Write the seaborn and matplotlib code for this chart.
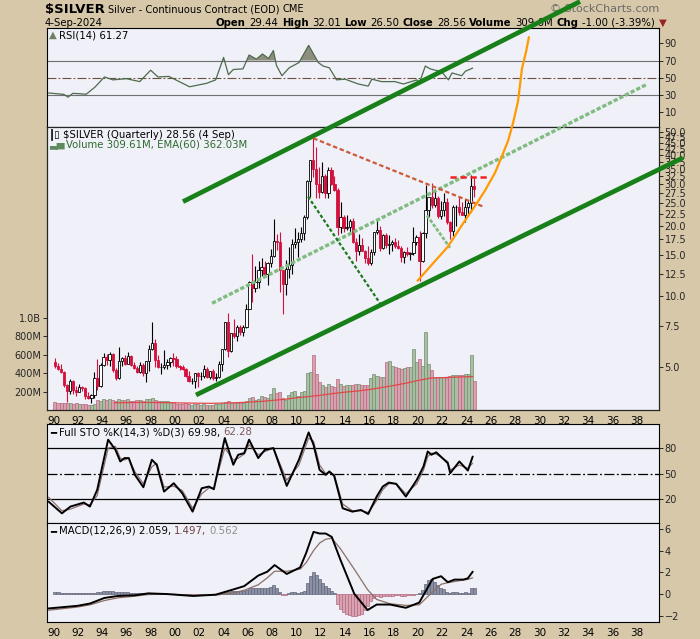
import numpy as np
import pandas as pd
import matplotlib
matplotlib.use("Agg")
import matplotlib.pyplot as plt
from matplotlib.ticker import FixedLocator, NullLocator
import seaborn as sns

# quarterly candles 1990Q1 .. 2024Q3
opens = [
    5.25, 5.05, 4.90, 4.75, 4.20, 3.95, 4.35, 4.00, 3.90, 4.10, 4.05, 3.75,
    3.70, 3.80, 4.50, 4.15, 5.10, 5.50, 5.35, 5.70, 4.85, 4.50, 5.30, 5.45,
    5.15, 5.55, 5.10, 4.95, 4.75, 5.10, 4.70, 5.30, 5.95, 6.35, 5.35, 5.00,
    5.00, 5.10, 5.25, 5.45, 5.40, 5.05, 5.00, 4.90, 4.60, 4.35, 4.35, 4.70,
    4.60, 4.60, 4.90, 4.55, 4.80, 4.50, 4.55, 5.15, 5.95, 7.75, 5.85, 6.95,
    6.80, 7.40, 7.05, 7.40, 8.85, 11.55, 10.85, 11.55, 12.90, 13.30, 12.40, 13.90,
    14.80, 17.20, 17.05, 12.90, 11.30, 13.10, 13.60, 16.65, 16.95, 17.50, 18.65, 21.80,
    30.90, 37.90, 34.70, 30.00, 27.90, 32.50, 27.60, 34.50, 30.00, 28.40, 19.70, 21.75,
    19.50, 19.70, 21.00, 17.10, 15.60, 16.60, 15.60, 14.55, 13.80, 15.40, 18.70, 19.20,
    16.00, 18.20, 16.60, 16.65, 17.00, 16.40, 16.10, 14.70, 15.50, 15.10, 15.30, 17.00,
    17.90, 14.20, 18.60, 23.40, 26.40, 24.50, 26.20, 22.00, 23.30, 25.10, 20.80, 19.00,
    24.00, 24.10, 22.80, 22.30, 24.10, 25.00, 29.44,
]
highs = [
    5.45, 5.20, 5.15, 4.80, 4.25, 4.45, 4.40, 4.15, 4.25, 4.15, 4.10, 3.90,
    3.85, 4.75, 5.40, 5.20, 5.75, 5.70, 5.80, 5.75, 4.95, 6.10, 5.50, 5.60,
    5.80, 5.60, 5.25, 5.05, 5.25, 5.20, 5.30, 6.20, 7.80, 6.60, 5.60, 5.20,
    5.90, 5.40, 5.50, 5.75, 5.55, 5.10, 5.10, 4.95, 4.80, 4.50, 4.70, 4.75,
    4.75, 5.10, 5.00, 4.80, 4.90, 4.70, 5.30, 5.95, 7.80, 8.45, 7.00, 8.00,
    7.55, 7.55, 7.55, 9.25, 11.60, 15.20, 13.40, 14.20, 14.50, 14.10, 13.95, 15.85,
    21.35, 18.40, 18.80, 13.00, 14.30, 16.25, 17.50, 19.45, 18.85, 19.80, 22.10, 31.30,
    38.20, 49.80, 43.40, 35.70, 37.50, 33.20, 35.40, 35.40, 32.40, 28.95, 25.10, 22.20,
    22.20, 21.35, 21.60, 17.80, 18.50, 17.80, 15.80, 16.30, 15.85, 18.80, 21.20, 20.00,
    18.50, 18.65, 18.20, 17.40, 17.70, 17.35, 16.30, 15.60, 16.20, 15.50, 19.75, 18.25,
    18.90, 18.80, 29.90, 26.50, 30.35, 28.75, 26.85, 25.40, 27.50, 26.30, 21.00, 24.50,
    24.60, 26.40, 25.30, 26.05, 25.75, 32.75, 32.01,
]
lows = [
    4.95, 4.85, 4.70, 4.10, 3.55, 3.85, 3.85, 3.75, 3.90, 3.95, 3.65, 3.65,
    3.52, 3.70, 4.00, 4.10, 5.05, 5.10, 5.05, 4.75, 4.40, 4.45, 5.05, 5.10,
    5.15, 5.05, 4.90, 4.70, 4.70, 4.60, 4.30, 4.80, 5.90, 5.00, 4.95, 4.65,
    4.90, 4.90, 5.00, 5.05, 4.95, 4.85, 4.85, 4.55, 4.30, 4.25, 4.05, 4.10,
    4.40, 4.50, 4.50, 4.45, 4.40, 4.35, 4.50, 4.80, 5.90, 5.50, 5.80, 6.65,
    6.45, 6.85, 6.75, 7.30, 8.85, 9.50, 10.40, 10.80, 12.20, 12.40, 11.20, 13.30,
    14.70, 15.80, 10.40, 8.40, 10.15, 11.95, 12.40, 16.05, 14.65, 17.00, 17.40, 21.30,
    26.40, 32.30, 26.10, 26.15, 27.60, 26.10, 26.30, 29.80, 28.00, 18.20, 18.60, 18.80,
    19.25, 18.60, 16.90, 14.15, 15.00, 15.55, 13.90, 13.65, 13.60, 15.00, 18.50, 15.60,
    15.90, 16.10, 15.20, 15.60, 16.10, 15.95, 13.95, 13.90, 14.90, 14.30, 14.95, 16.50,
    11.65, 13.95, 17.70, 21.80, 23.80, 24.00, 21.45, 21.40, 21.95, 20.40, 17.55, 18.10,
    19.90, 22.10, 22.20, 20.70, 21.95, 22.80, 26.50,
]
closes = [
    5.05, 4.90, 4.75, 4.20, 3.95, 4.35, 4.00, 3.90, 4.10, 4.05, 3.75, 3.70,
    3.80, 4.50, 4.15, 5.10, 5.50, 5.35, 5.70, 4.85, 4.50, 5.30, 5.45, 5.15,
    5.55, 5.10, 4.95, 4.75, 5.10, 4.70, 5.30, 5.95, 6.35, 5.35, 5.00, 5.00,
    5.10, 5.25, 5.45, 5.40, 5.05, 5.00, 4.90, 4.60, 4.35, 4.35, 4.70, 4.60,
    4.60, 4.90, 4.55, 4.80, 4.50, 4.55, 5.15, 5.95, 7.75, 5.85, 6.95, 6.80,
    7.40, 7.05, 7.40, 8.85, 11.55, 10.85, 11.55, 12.90, 13.30, 12.40, 13.90, 14.80,
    17.20, 17.05, 12.90, 11.30, 13.10, 13.60, 16.65, 16.95, 17.50, 18.65, 21.80, 30.90,
    37.90, 34.70, 30.00, 27.90, 32.50, 27.60, 34.50, 30.00, 28.40, 19.70, 21.75, 19.50,
    19.70, 21.00, 17.10, 15.60, 16.60, 15.60, 14.55, 13.80, 15.40, 18.70, 19.20, 16.00,
    18.20, 16.60, 16.65, 17.00, 16.40, 16.10, 14.70, 15.50, 15.10, 15.30, 17.00, 17.90,
    14.20, 18.60, 23.40, 26.40, 24.50, 26.20, 22.00, 23.30, 25.10, 20.80, 19.00, 24.00,
    24.10, 22.80, 22.30, 24.10, 25.00, 29.44, 28.56,
]
# volume in millions
volumes = [
    85, 80, 75, 80, 75, 75, 70, 75, 70, 65, 60, 55,
    50, 70, 110, 95, 115, 110, 120, 105, 100, 120, 110, 105,
    120, 100, 95, 105, 110, 100, 115, 120, 125, 105, 100, 95,
    95, 100, 85, 90, 70, 65, 70, 75, 60, 55, 60, 65,
    50, 60, 55, 50, 55, 60, 70, 80, 90, 95, 80, 85,
    80, 75, 80, 95, 130, 140, 110, 120, 150, 140, 130, 170,
    240, 180, 190, 130, 110, 160, 200, 210, 150, 190, 210, 405,
    410, 590, 390, 300, 265, 245, 280, 260, 245, 335, 280, 260,
    270, 265, 270, 285, 280, 270, 265, 275, 350, 390, 370, 360,
    355, 520, 535, 480, 460, 450, 440, 450, 460, 465, 660, 520,
    550, 480, 840, 500, 430, 360, 355, 355, 360, 350, 370, 375,
    375, 380, 380, 385, 390, 590, 310,
]
vol_ema_x = [1995.0, 1997.0, 1999.0, 2001.0, 2003.0, 2005.0, 2007.0, 2009.0, 2010.0,
             2011.0, 2012.0, 2013.0, 2014.0, 2015.0, 2016.0, 2017.0, 2018.0, 2019.0,
             2020.0, 2021.0, 2022.0, 2023.0, 2024.5]
vol_ema = [78, 82, 80, 75, 72, 78, 92, 115, 132, 145, 160, 178, 193, 205, 221, 243,
           265, 290, 319, 345, 350, 355, 362]

rsi_x = [1989.6, 1990.86, 1991.2, 1991.6, 1992.7, 1993.4, 1994.2, 1994.9, 1996.0, 1997.1,
         1998.0, 1998.6, 1999.5, 2001.2, 2002.6, 2003.35, 2004.0, 2004.4, 2004.8, 2005.6,
         2006.1, 2006.7, 2007.2, 2007.7, 2008.1, 2008.35, 2008.8, 2009.4, 2010.2, 2011.0,
         2011.4, 2011.8, 2012.2, 2012.7, 2013.3, 2014.0, 2015.1, 2015.9, 2016.2, 2017.0,
         2018.1, 2018.8, 2019.9, 2020.1, 2020.6, 2021.0, 2021.4, 2021.9, 2022.5, 2022.8,
         2023.6, 2023.9, 2024.5]
rsi_v = [32.4, 30.8, 27.6, 32, 31, 39, 51, 47.6, 49, 45.6,
         58.8, 51, 51.6, 39.6, 43.6, 47.6, 73.6, 53.6, 59.6, 60.4,
         76.4, 71.6, 77.6, 72.4, 81.6, 64.4, 52.4, 61.6, 67.6, 87.6,
         77.6, 67.6, 63.6, 61.6, 47.6, 48.4, 42.8, 40.4, 48.4, 45.6,
         45.6, 42.8, 47.6, 43.6, 63.6, 60.4, 58.8, 57.6, 47.6, 55.6,
         52.4, 57.6, 61.27]

sto_x = [1989.6, 1990.7, 1991.4, 1992.5, 1993.0, 1993.6, 1994.5, 1995.1, 1995.5, 1995.85,
         1996.2, 1996.7, 1997.4, 1998.1, 1998.5, 1999.1, 1999.9, 2000.6, 2001.45, 2002.2,
         2002.8, 2003.2, 2004.1, 2004.8, 2005.2, 2005.7, 2006.1, 2006.85, 2007.4, 2008.1,
         2009.2, 2010.2, 2011.0, 2011.4, 2011.9, 2012.4, 2012.7, 2013.1, 2013.8, 2014.6,
         2015.3, 2015.9, 2016.6, 2017.1, 2017.6, 2018.2, 2019.0, 2019.9, 2020.45, 2020.8,
         2021.1, 2021.5, 2022.45, 2022.65, 2023.4, 2024.1, 2024.5]
sto_k = [16.8, 3, 11, 15.7, 11, 30.7, 89.9, 78, 64.2, 68.2,
         68.2, 48.4, 33.8, 66.2, 60.3, 28.7, 38.5, 26.7, 5, 32.6,
         34.6, 31.4, 91.8, 60.3, 72.1, 74, 89.9, 68.2, 78, 80,
         35.4, 66.2, 98.5, 84, 54.3, 48.4, 52.4, 47.2, 9, 5,
         7, 2.2, 22.8, 34.6, 39.3, 37.8, 22.8, 42.5, 58.3, 76,
         72.1, 75, 62.2, 50.4, 64.2, 53.5, 69.98]
sto_d = [22, 6, 8, 14, 13, 24, 80, 82, 68, 66,
         68, 52, 38, 58, 62, 34, 35, 30, 9, 26,
         33, 33, 80, 66, 68, 73, 84, 72, 76, 80,
         42, 60, 92, 88, 60, 50, 51, 49, 14, 6,
         6, 4, 18, 31, 38, 38, 26, 38, 54, 70,
         74, 73, 64, 54, 60, 56, 62.28]

macd_x = [1989.6, 1991.97, 1993.0, 1994.2, 1995.3, 1996.7, 1997.8, 1999.3, 2001.5, 2003.35,
          2004.8, 2005.7, 2006.85, 2007.6, 2008.2, 2009.2, 2010.3, 2010.8, 2011.4, 2011.9,
          2012.4, 2012.9, 2013.6, 2014.75, 2015.85, 2016.6, 2017.7, 2019.0, 2020.1, 2021.2,
          2021.9, 2022.45, 2023.0, 2023.75, 2024.1, 2024.5]
macd_v = [-1.33, -1.09, -0.88, -0.36, -0.18, -0.12, 0.06, 0.0, -0.18, -0.06,
          0.42, 0.73, 1.7, 2.06, 2.67, 1.85, 2.45, 3.8, 5.73, 5.58,
          5.58, 5.27, 3.2, 0.03, -1.48, -0.97, -0.97, -1.27, -0.79, 1.39,
          1.64, 1.09, 1.33, 1.33, 1.45, 2.059]
macd_sig = [-1.5, -1.2, -1.0, -0.6, -0.35, -0.2, -0.05, 0.0, -0.1, -0.1,
            0.1, 0.35, 0.85, 1.5, 2.1, 2.1, 2.3, 2.9, 4.0, 4.7,
            5.05, 5.15, 4.2, 2.3, 0.4, -0.5, -0.9, -1.05, -1.0, 0.2,
            0.9, 1.05, 1.15, 1.3, 1.35, 1.497]
macd_hist = [
    0.15, 0.15, 0.12, 0.10, 0.10, 0.08, 0.05, 0.05, 0.08, 0.10, 0.10, 0.10,
    0.10, 0.12, 0.15, 0.20, 0.25, 0.28, 0.30, 0.25, 0.20, 0.22, 0.20, 0.18,
    0.15, 0.12, 0.10, 0.08, 0.05, 0.05, 0.10, 0.12, 0.10, 0.05, 0.03, 0.02,
    0.02, 0.03, 0.02, 0.00, -0.02, -0.03, -0.05, -0.05, -0.05, -0.05, -0.03, -0.02,
    0.00, 0.02, 0.00, 0.02, 0.00, 0.02, 0.05, 0.10, 0.25, 0.20, 0.25, 0.25,
    0.30, 0.30, 0.30, 0.40, 0.60, 0.60, 0.55, 0.60, 0.60, 0.55, 0.60, 0.65,
    0.80, 0.60, 0.20, -0.10, -0.10, 0.05, 0.15, 0.20, 0.10, 0.15, 0.30, 1.00,
    1.70, 2.05, 1.75, 1.40, 1.05, 0.75, 0.55, 0.25, 0.10, -0.90, -1.40, -1.70,
    -1.85, -1.95, -2.00, -2.00, -1.95, -1.80, -1.50, -1.10, -0.60, -0.35, -0.20, -0.30,
    -0.20, -0.20, -0.18, -0.15, -0.12, -0.12, -0.15, -0.15, -0.12, -0.10, -0.05, 0.00,
    0.05, 0.35, 0.95, 1.30, 1.35, 1.15, 0.80, 0.60, 0.50, 0.20, 0.10, 0.15,
    0.15, 0.10, 0.12, 0.15, 0.10, 0.60, 0.562,
]

# hand-drawn annotations (year, price)
upper_x, upper_y = [2000.66, 2033.33], [25.3, 180.0]
lower_x, lower_y = [2001.73, 2041.8], [3.80, 38.9]
mid_x, mid_y = [2003.05, 2038.85], [9.34, 80.0]
fall_x, fall_y = [2010.95, 2016.87], [26.6, 9.34]
flag_x, flag_y = [2020.74, 2022.63], [22.1, 16.1]
res_x, res_y = [2011.38, 2025.37], [47.1, 24.1]
top_x, top_y = [2022.6, 2025.9], [32.3, 32.3]
arc_x = [2019.92, 2022.47, 2023.70, 2024.86, 2025.51, 2026.34, 2026.91, 2027.41,
         2027.82, 2028.23, 2028.56, 2028.89, 2029.14]
arc_y = [11.58, 16.3, 20.4, 25.0, 28.2, 33.6, 39.6, 45.9, 54.7, 67.8, 93.6, 110, 128]

price_ticks = [5.0, 7.5, 10.0, 12.5, 15.0, 17.5, 20.0, 22.5, 25.0, 27.5, 30.0, 32.5,
               35.0, 37.5, 40.0, 42.5, 45.0, 47.5, 50.0]
vol_ticks = [200e6, 400e6, 600e6, 800e6, 1e9]
vol_labels = ["200M", "400M", "600M", "800M", "1.0B"]

sns.set_theme(style="white")
plt.rcParams["font.family"] = ["DejaVu Sans"]
plt.rcParams["axes.linewidth"] = 0.8

TAN = "#d7c8aa"
PANEL = "#f0f0f8"
RED = "#d6103c"
W, H = 700, 639

q = pd.period_range("1990Q1", "2024Q3", freq="Q")
qx = np.array(q.year + (q.quarter - 1) / 4.0)
o = np.array(opens); hi = np.array(highs); lo = np.array(lows); c = np.array(closes)
up = c >= o

fig = plt.figure(figsize=(7, 6.39), dpi=100, facecolor=TAN)


def box(x0, y0, x1, y1):
    return [x0 / W, 1 - y1 / H, (x1 - x0) / W, (y1 - y0) / H]


ax_rsi = fig.add_axes(box(47, 28, 659, 127))
ax_vol = fig.add_axes(box(47, 127, 659, 410))
ax_px = ax_vol.twinx()
ax_sto = fig.add_axes(box(47, 424, 659, 523))
ax_macd = fig.add_axes(box(47, 523, 659, 622))
ax_rsi.set_zorder(0)
ax_vol.set_zorder(1)
ax_px.set_zorder(5)

years = np.arange(1990, 2040, 2)
for ax in [ax_rsi, ax_vol, ax_sto, ax_macd]:
    ax.set_facecolor(PANEL)
    ax.set_xlim(1989.47, 2039.83)
    ax.set_xticks(years)
    ax.set_xticklabels([f"{y % 100:02d}" for y in years])
    ax.tick_params(axis="x", length=3, width=0.7, pad=1.5, labelsize=7.5, colors="black")
    for s in ax.spines.values():
        s.set_color("black")
for ax in [ax_rsi, ax_sto]:
    ax.tick_params(axis="x", bottom=False, labelbottom=False)
for ax in [ax_rsi, ax_sto, ax_macd]:
    ax.yaxis.tick_right()
    ax.tick_params(axis="y", length=3, width=0.7, pad=1, labelsize=7)
ax_px.set_xlim(1989.47, 2039.83)

# RSI
ax_rsi.axhline(70, color="#707070", lw=0.8)
ax_rsi.axhline(30, color="#707070", lw=0.8)
ax_rsi.axhline(50, color="#6b5040", lw=0.8, ls=(0, (8, 2, 1.5, 2)))
rv = np.array(rsi_v)
ax_rsi.fill_between(rsi_x, rv, 70, where=rv > 70, interpolate=True, color="#8e8e7e", lw=0)
sns.lineplot(x=rsi_x, y=rsi_v, ax=ax_rsi, color="#4d6b4d", lw=0.9)
ax_rsi.set_ylim(-7, 107.7)
ax_rsi.set_yticks([10, 30, 50, 70, 90])

# volume
vcol = np.where(up, "#a9bea2", "#d9a0b0")
vedge = np.where(up, "#6f8f6f", "#b56a80")
ax_vol.bar(qx, np.array(volumes) * 1e6, width=0.25, align="edge", color=vcol,
           edgecolor=vedge, lw=0.5)
sns.lineplot(x=vol_ema_x, y=np.array(vol_ema) * 1e6, ax=ax_vol, color="#e04848", lw=0.9)
ax_vol.set_ylim(0, 3.06e9)
ax_vol.set_yticks(vol_ticks)
ax_vol.set_yticklabels(vol_labels)
ax_vol.tick_params(axis="y", length=3, width=0.7, pad=1, labelsize=7)

# candles
cx = qx + 0.125
ax_px.vlines(cx, lo, hi, colors=np.where(up, "black", RED), lw=0.8, zorder=2)
ax_px.bar(cx, np.abs(c - o), bottom=np.minimum(o, c), width=0.19,
          color=np.where(up, "white", RED), edgecolor=np.where(up, "black", RED),
          lw=0.6, zorder=3)
ax_px.set_yscale("log")
ax_px.set_ylim(3.28, 52.6)
ax_px.yaxis.set_major_locator(FixedLocator(price_ticks))
ax_px.yaxis.set_minor_locator(NullLocator())
ax_px.set_yticklabels([f"{p:.1f}" for p in price_ticks])
ax_px.tick_params(axis="y", length=3, width=0.7, pad=1, labelsize=7)

# drawn trend lines
kw = dict(clip_on=False, solid_capstyle="butt", zorder=6)
ax_px.plot(upper_x, upper_y, color="#188018", lw=3.4, **kw)
ax_px.plot(lower_x, lower_y, color="#188018", lw=3.4, **kw)
ax_px.plot(mid_x, mid_y, color="#80bc80", lw=2.4, ls=(0, (1.3, 0.6)), **kw)
ax_px.plot(flag_x, flag_y, color="#80bc80", lw=2.0, ls=(0, (1.3, 0.6)), **kw)
ax_px.plot(fall_x, fall_y, color="#1a7a1a", lw=1.6, ls=(0, (1.5, 1.0)), **kw)
ax_px.plot(res_x, res_y, color="#cc5a3a", lw=1.6, ls=(0, (2.0, 1.2)), **kw)
ax_px.plot(top_x, top_y, color="#ee2020", lw=1.8, ls=(0, (2.5, 1.5)), **kw)
ax_px.plot(arc_x, arc_y, color="#ff9a00", lw=1.6, **kw)

# full stochastics
ax_sto.axhline(80, color="black", lw=0.9)
ax_sto.axhline(20, color="black", lw=0.9)
ax_sto.axhline(50, color="black", lw=0.9, ls=(0, (8, 2, 1.5, 2)))
sns.lineplot(x=sto_x, y=sto_d, ax=ax_sto, color="#8a7070", lw=0.9)
sns.lineplot(x=sto_x, y=sto_k, ax=ax_sto, color="black", lw=1.4)
ax_sto.set_ylim(-8.4, 108.4)
ax_sto.set_yticks([20, 50, 80])

# MACD
hist = np.array(macd_hist)
ax_macd.bar(qx, hist, width=0.25, align="edge",
            color=np.where(hist >= 0, "#8c90a4", "#d9a3b1"),
            edgecolor=np.where(hist >= 0, "#62667a", "#b36b80"), lw=0.5)
sns.lineplot(x=macd_x, y=macd_sig, ax=ax_macd, color="#8b6f66", lw=0.9)
sns.lineplot(x=macd_x, y=macd_v, ax=ax_macd, color="black", lw=1.4)
ax_macd.set_ylim(-2.58, 6.55)
ax_macd.set_yticks([-2, 0, 2, 4, 6])

for ax in [ax_rsi, ax_vol, ax_px, ax_sto, ax_macd]:
    ax.set_xlabel("")
    ax.set_ylabel("")
    ax.grid(False)

renderer = fig.canvas.get_renderer()


def write_row(x, y, pieces, size, gap=3.5):
    for s, weight, color in pieces:
        t = fig.text(x / W, 1 - y / H, s, fontsize=size, fontweight=weight,
                     color=color, va="center", ha="left")
        x += t.get_window_extent(renderer).width + gap
    return x


x_after = write_row(45, 9.5, [("$SILVER", "bold", "black")], 9.5, gap=3)
write_row(x_after, 9.5, [("Silver - Continuous Contract (EOD)", "normal", "black"),
                         ("CME", "normal", "black")], 7.1)
fig.text(659 / W, 1 - 9 / H, "\u00a9 StockCharts.com", fontsize=8, color="#6a6a6a",
         ha="right", va="center")
write_row(45, 22.7, [("4-Sep-2024", "normal", "black")], 7.3)
write_row(216, 22.7, [("Open", "bold", "black"), ("29.44", "normal", "black"),
                      ("High", "bold", "black"), ("32.01", "normal", "black"),
                      ("Low", "bold", "black"), ("26.50", "normal", "black"),
                      ("Close", "bold", "black"), ("28.56", "normal", "black"),
                      ("Volume", "bold", "black"), ("309.6M", "normal", "black"),
                      ("Chg", "bold", "black"), ("-1.00 (-3.39%)", "normal", "black"),
                      ("\u25bc", "normal", "#9b2222")], 7.3)

write_row(49, 35, [("\u25b2", "normal", "#6f7f5f"),
                   ("RSI(14) 61.27", "normal", "black")], 7.3, gap=2)
write_row(49, 134.5, [("\u2503\u25af", "normal", "black"),
                      ("$SILVER (Quarterly) 28.56 (4 Sep)", "normal", "black")], 7.3, gap=2)
write_row(49, 144.3, [("\u2583\u2585", "normal", "#5f8a5f"),
                      ("Volume 309.61M, EMA(60) 362.03M", "normal", "#2d6a2d")], 7.3, gap=1)
write_row(50, 432.3, [("\u2501", "bold", "black"),
                      ("Full STO %K(14,3) %D(3) 69.98,", "normal", "black"),
                      ("62.28", "normal", "#7a5a5a")], 7.3, gap=3)
write_row(50, 530.7, [("\u2501", "bold", "black"),
                      ("MACD(12,26,9) 2.059,", "normal", "black"),
                      ("1.497,", "normal", "#6b4040"),
                      ("0.562", "normal", "#909090")], 7.3, gap=3)

fig.savefig("out.png", dpi=100, facecolor=TAN)
